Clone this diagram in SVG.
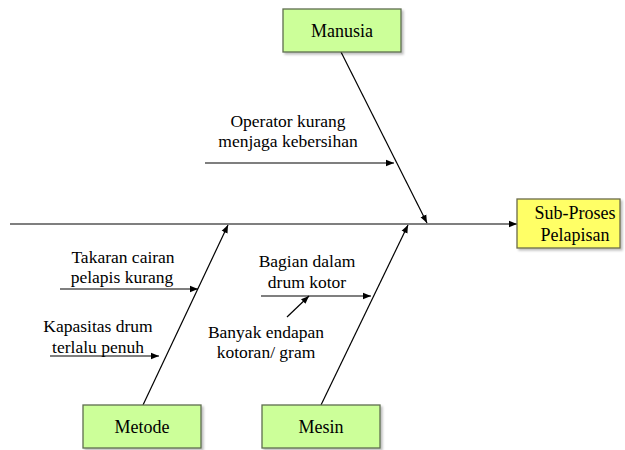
<svg xmlns="http://www.w3.org/2000/svg" width="625" height="450" viewBox="0 0 625 450">
<defs>
<marker id="ah" viewBox="0 0 10 10" refX="10" refY="5" markerWidth="8" markerHeight="8" markerUnits="userSpaceOnUse" orient="auto"><path d="M0,1 L10,5 L0,9 Z" fill="#000"/></marker>
<filter id="sh" x="-10%" y="-10%" width="130%" height="130%"><feDropShadow dx="2" dy="2" stdDeviation="1" flood-color="#000" flood-opacity="0.25"/></filter>
</defs>
<style>
.box{stroke:#5f6e4f;stroke-width:1.3;filter:url(#sh)}
.g{fill:#ccff99}
.y{fill:#ffff66;stroke:#6b6b4a}
.t{font-family:"Liberation Serif","Times New Roman",Tinos,serif;font-size:17.5px;fill:#000;text-anchor:middle}
.bt{font-size:18px}
.ln{stroke:#000;stroke-width:1.2;fill:none}
</style>
<g id="connectors">
<line class="ln" x1="10" y1="224" x2="517" y2="224" marker-end="url(#ah)"/>
<line class="ln" x1="341" y1="52" x2="427" y2="223" marker-end="url(#ah)"/>
<line class="ln" x1="143" y1="405" x2="228" y2="225" marker-end="url(#ah)"/>
<line class="ln" x1="321" y1="405" x2="408" y2="225" marker-end="url(#ah)"/>
<line class="ln" x1="205" y1="163" x2="394" y2="163" marker-end="url(#ah)"/>
<line class="ln" x1="60" y1="289" x2="198" y2="289" marker-end="url(#ah)"/>
<line class="ln" x1="50" y1="356" x2="159" y2="356" marker-end="url(#ah)"/>
<line class="ln" x1="261" y1="296" x2="371" y2="296" marker-end="url(#ah)"/>
<line class="ln" x1="287" y1="317" x2="309" y2="296" marker-end="url(#ah)"/>
</g>
<g id="manusia">
<rect class="box g" x="283" y="9" width="118" height="43"/>
<text class="t bt" x="342" y="37">Manusia</text>
</g>
<g id="subproses">
<rect class="box y" x="517" y="199" width="103" height="49"/>
<text class="t bt" x="575" y="219">Sub-Proses</text>
<text class="t bt" x="575" y="241">Pelapisan</text>
</g>
<g id="metode">
<rect class="box g" x="83" y="405" width="118" height="43"/>
<text class="t bt" x="142" y="433">Metode</text>
</g>
<g id="mesin">
<rect class="box g" x="262" y="405" width="118" height="43"/>
<text class="t bt" x="321" y="433">Mesin</text>
</g>
<g id="operator">
<text class="t" x="288" y="127">Operator kurang</text>
<text class="t" x="288" y="147">menjaga kebersihan</text>
</g>
<g id="takaran">
<text class="t" x="123" y="263">Takaran cairan</text>
<text class="t" x="122" y="283">pelapis kurang</text>
</g>
<g id="kapasitas">
<text class="t" x="98" y="332">Kapasitas drum</text>
<text class="t" x="98" y="353">terlalu penuh</text>
</g>
<g id="bagian">
<text class="t" x="307" y="267">Bagian dalam</text>
<text class="t" x="307" y="288">drum kotor</text>
</g>
<g id="banyak">
<text class="t" x="266" y="338">Banyak endapan</text>
<text class="t" x="266" y="358">kotoran/ gram</text>
</g>
</svg>
